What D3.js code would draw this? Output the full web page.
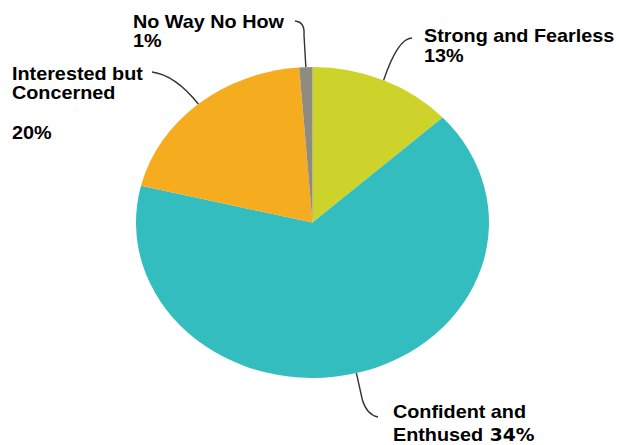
<!DOCTYPE html>
<html><head><meta charset="utf-8">
<script src="https://cdn.jsdelivr.net/npm/d3@7"></script>
<style>body{margin:0;background:#fff}svg{display:block}</style>
</head><body>
<svg id="c" width="619" height="445"></svg>
<script>
// Data (slice shares; label texts as printed)
const categories = ["Strong and Fearless", "Confident and Enthused", "Interested but Concerned", "No Way No How"];
const values = [13.2, 65.6, 20, 1.2];
const pctLabels = ["13%", "34%", "20%", "1%"];
const colors = ["#cdd32a", "#34bdbf", "#f6ac1f", "#8d8c7f"];

const svg = d3.select("#c");
const cx = 312.5, cy = 222.5, ry = 155.5, rx = 176.5;
const sx = rx / ry;

const pie = d3.pie().sort(null).value(d => d)(values);
const arc = d3.arc().innerRadius(0).outerRadius(ry);

const g = svg.append("g").attr("transform", `translate(${cx},${cy}) scale(${sx},1)`);
g.selectAll("path").data(pie).join("path")
  .attr("d", arc).attr("fill", (d, i) => colors[i]);

// leader line start point: outer edge at mid angle
function edge(d, extra) {
  const a = (d.startAngle + d.endAngle) / 2;
  const r = ry + (extra || 0);
  return [cx + Math.sin(a) * r * sx, cy - Math.cos(a) * r];
}

const labels = [
  { lines: [["Strong and Fearless"], [pctLabels[0]]], x: 424, ys: [42, 62],
    lead: p => `M${p[0]},${p[1]} Q398,38 412,38` },
  { lines: [["Confident and"], ["Enthused", pctLabels[1]]], x: 393, ys: [418, 441],
    lead: p => `M${p[0]},${p[1]} L${p[0] + 6},400 Q367,415 378,417` },
  { lines: [["Interested but"], ["Concerned"], [pctLabels[2]]], x: 12, ys: [80, 99, 139],
    lead: p => `M${p[0]},${p[1]} Q175,75 152,72` },
  { lines: [["No Way No How"], [pctLabels[3]]], x: 133, ys: [28, 47],
    lead: p => `M${p[0]},${p[1]} L304,35 Q305,22 295,21` }
];

labels.forEach((L, i) => {
  const p = edge(pie[i], 0);
  svg.append("path").attr("d", L.lead(p))
    .attr("fill", "none").attr("stroke", "#333").attr("stroke-width", 1.4);
  const lg = svg.append("g").attr("transform", `translate(${L.x},0) scale(1.1,1)`);
  L.lines.forEach((parts, j) => {
    const t = lg.append("text").attr("x", 0).attr("y", L.ys[j])
      .attr("font-family", "'Liberation Sans', Arial, sans-serif")
      .attr("fill", "#000");
    parts.forEach((s, k) => {
      const ts = t.append("tspan").text(s);
      if (k === 0) ts.attr("font-size", 18).attr("font-weight", "bold");
      else ts.attr("font-size", 17).attr("font-weight", "bold")
        .attr("font-family", "'DejaVu Sans', sans-serif").attr("dx", 6);
    });
  });
});
</script>
</body></html>
